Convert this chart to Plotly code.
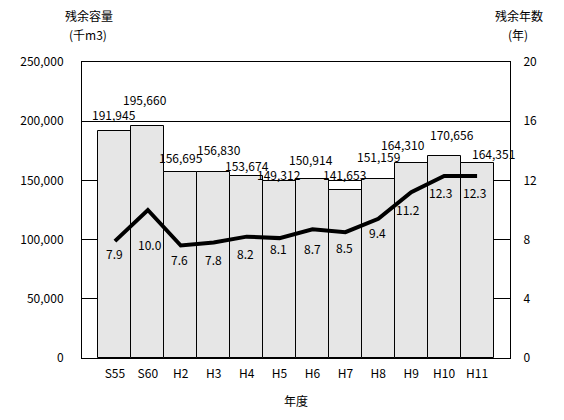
import plotly.graph_objects as go

# ---- data ----
years = ["S55", "S60", "H2", "H3", "H4", "H5", "H6", "H7", "H8", "H9", "H10", "H11"]
capacity = [191945, 195660, 156695, 156830, 153674, 149312, 150914, 141653, 151159, 164310, 170656, 164351]
remaining_years = [7.9, 10.0, 7.6, 7.8, 8.2, 8.1, 8.7, 8.5, 9.4, 11.2, 12.3, 12.3]
left_ticks = [0, 50000, 100000, 150000, 200000, 250000]
right_ticks = [0, 4, 8, 12, 16, 20]

# label placement tweaks (pixels) to mimic the original layout
bar_label_dx = [-1, -3, 0, 5, 0, -1, -1, -1, 0, -8, 8, 16]
bar_label_dy = [16, 27, 15, 23, 11, 7, 20, 16, 23, 19, 21, 10]
line_label_dx = [0, 2, -1, 0, -1, -1, 0, -1, -1, -3, -4, -3]
line_label_dy = [-12, -34, -14, -17, -17, -10, -19, -15, -14, -17, -17, -17]

FONT = "Noto Sans CJK JP"

fig = go.Figure()
fig.add_trace(go.Bar(
    x=years, y=capacity, width=1,
    marker=dict(color="#e6e6e6", line=dict(color="black", width=1)),
    hoverinfo="x+y", showlegend=False,
))
fig.add_trace(go.Scatter(
    x=years, y=remaining_years, yaxis="y2", mode="lines",
    line=dict(color="black", width=4), showlegend=False,
))

annotations = []
for i, (c, v) in enumerate(zip(years, capacity)):
    annotations.append(dict(
        x=c, y=v, xref="x", yref="y", text=f"{v:,}", showarrow=False,
        xanchor="center", yanchor="middle", borderpad=0,
        xshift=bar_label_dx[i], yshift=bar_label_dy[i],
        font=dict(family=FONT, size=12, color="black"),
    ))
for i, (c, v) in enumerate(zip(years, remaining_years)):
    annotations.append(dict(
        x=c, y=v, xref="x", yref="y2", text=f"{v:.1f}", showarrow=False,
        xanchor="center", yanchor="middle", borderpad=0,
        xshift=line_label_dx[i], yshift=line_label_dy[i],
        font=dict(family=FONT, size=12, color="black"),
    ))

# page geometry (the HTML body adds an 8px margin)
OFF = 8
PLOT_L, PLOT_R, PLOT_T, PLOT_B = 71, 510, 62, 358
W, H = 564 - OFF, 420 - OFF
pw, ph = PLOT_R - PLOT_L, PLOT_B - PLOT_T


def px_to_paper(x, y):
    return (x - PLOT_L) / pw, (PLOT_B - y) / ph


title_font = dict(family=FONT, size=12, color="black")
for text, px, py in [("残余容量", 78, 16), ("(千m3)", 77, 34),
                     ("残余年数", 519, 16), ("(年)", 518, 34),
                     ("年度", 291, 400)]:
    ax, ay = px_to_paper(px, py)
    annotations.append(dict(x=ax, y=ay, xref="paper", yref="paper", text=text,
                            xanchor="center", yanchor="middle", borderpad=0,
                            showarrow=False, font=title_font))

fig.update_layout(
    width=W, height=H,
    margin=dict(l=PLOT_L - OFF, r=W - (PLOT_R - OFF), t=PLOT_T - OFF, b=H - (PLOT_B - OFF), pad=0),
    paper_bgcolor="white", plot_bgcolor="white",
    bargap=0,
    font=dict(family=FONT, size=12, color="black"),
    xaxis=dict(
        type="category", range=[-1, 12],
        showline=True, linecolor="black", linewidth=1, mirror=True,
        showgrid=False, ticks="outside", ticklen=5, tickcolor="rgba(0,0,0,0)",
        tickfont=dict(family=FONT, size=12),
    ),
    yaxis=dict(
        range=[0, 250000], tickvals=left_ticks,
        ticktext=[f"{t:,}" for t in left_ticks],
        showline=True, linecolor="black", linewidth=1, mirror=True,
        showgrid=True, gridcolor="black", gridwidth=1, zeroline=False,
        ticks="outside", ticklen=15, tickcolor="rgba(0,0,0,0)",
        tickfont=dict(family=FONT, size=12),
    ),
    yaxis2=dict(
        range=[0, 20], tickvals=right_ticks, overlaying="y", side="right",
        showline=True, linecolor="black", linewidth=1,
        showgrid=False, zeroline=False,
        ticks="outside", ticklen=10, tickcolor="rgba(0,0,0,0)",
        tickfont=dict(family=FONT, size=12),
    ),
    annotations=annotations,
)

fig.write_html("out.html")
